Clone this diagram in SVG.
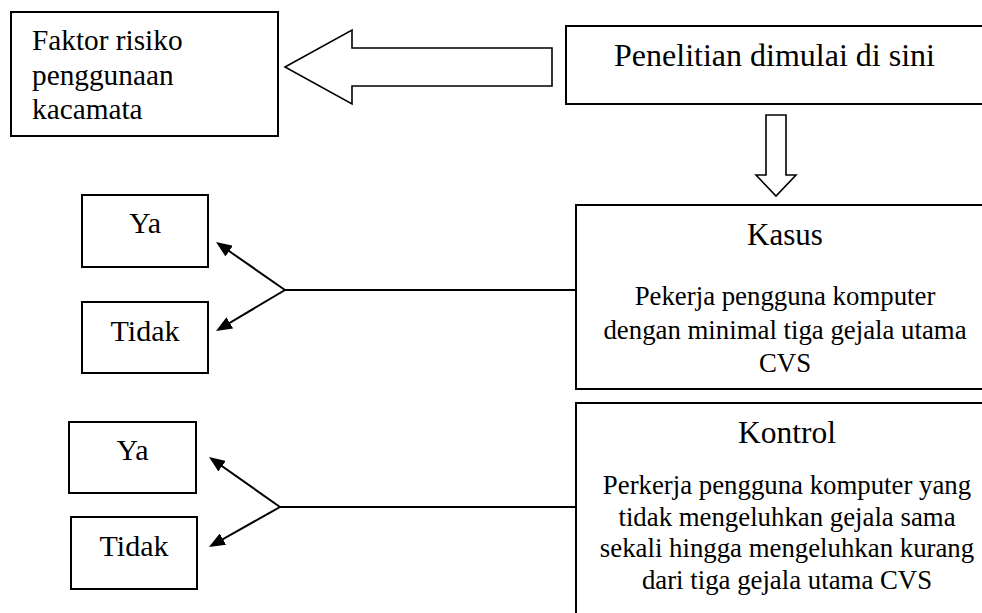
<svg xmlns="http://www.w3.org/2000/svg" width="982" height="613" viewBox="0 0 982 613">
<style>
.box{fill:#fff;stroke:#000;stroke-width:2}
.blk{fill:#fff;stroke:#000;stroke-width:1.6;stroke-linejoin:miter}
.t{font-family:"Liberation Serif","Times New Roman",serif;fill:#000}
.c{text-anchor:middle}
.ln{stroke:#000;stroke-width:2;fill:none}
</style>
<defs>
<marker id="ah" markerUnits="userSpaceOnUse" markerWidth="16" markerHeight="13" refX="13" refY="6.5" orient="auto">
<path d="M0,0 L16,6.5 L0,13 z" fill="#000"/>
</marker>
</defs>
<rect width="982" height="613" fill="#fff"/>
<g id="faktor">
<rect class="box" x="11" y="12" width="267" height="124"/>
<text class="t" font-size="29.3" x="32" y="50">Faktor risiko</text>
<text class="t" font-size="29.3" x="32" y="85">penggunaan</text>
<text class="t" font-size="29.3" x="32" y="119">kacamata</text>
</g>
<g id="penelitian">
<rect class="box" x="566" y="26" width="430" height="78"/>
<text class="t c" font-size="32" x="774.5" y="66">Penelitian dimulai di sini</text>
</g>
<g id="kasus">
<rect class="box" x="576" y="205" width="420" height="184"/>
<text class="t c" font-size="31" x="785" y="245">Kasus</text>
<text class="t c" font-size="26.8" x="785" y="305">Pekerja pengguna komputer</text>
<text class="t c" font-size="26.8" x="785" y="339">dengan minimal tiga gejala utama</text>
<text class="t c" font-size="26.8" x="785" y="372">CVS</text>
</g>
<g id="kontrol">
<rect class="box" x="576" y="403" width="420" height="230"/>
<text class="t c" font-size="31.5" x="787" y="443">Kontrol</text>
<text class="t c" font-size="26.8" x="787" y="494">Perkerja pengguna komputer yang</text>
<text class="t c" font-size="26.8" x="787" y="526">tidak mengeluhkan gejala sama</text>
<text class="t c" font-size="26.8" x="787" y="557">sekali hingga mengeluhkan kurang</text>
<text class="t c" font-size="26.8" x="787" y="589">dari tiga gejala utama CVS</text>
</g>
<g id="ya1">
<rect class="box" x="82" y="195" width="126" height="72"/>
<text class="t c" font-size="30" x="145" y="233">Ya</text>
</g>
<g id="tidak1">
<rect class="box" x="82" y="302" width="126" height="71"/>
<text class="t c" font-size="30" x="145" y="341">Tidak</text>
</g>
<g id="ya2">
<rect class="box" x="69" y="422" width="127" height="71"/>
<text class="t c" font-size="30" x="132.5" y="460">Ya</text>
</g>
<g id="tidak2">
<rect class="box" x="71" y="517" width="126" height="72"/>
<text class="t c" font-size="30" x="134" y="556">Tidak</text>
</g>
<g id="connectors">
<polygon class="blk" points="285,67 352,30 352,48 552,48 552,86 352,86 352,104"/>
<polygon class="blk" points="766,115 786,115 786,175 796,175 776,196 756,175 766,175"/>
<line class="ln" x1="285" y1="290" x2="576" y2="290"/>
<line class="ln" x1="285" y1="290" x2="218.5" y2="243.7" marker-end="url(#ah)"/>
<line class="ln" x1="285" y1="290" x2="218.6" y2="329.5" marker-end="url(#ah)"/>
<line class="ln" x1="280" y1="507" x2="576" y2="507"/>
<line class="ln" x1="280" y1="507" x2="211.5" y2="458.7" marker-end="url(#ah)"/>
<line class="ln" x1="280" y1="507" x2="211.6" y2="545.5" marker-end="url(#ah)"/>
</g>
</svg>
